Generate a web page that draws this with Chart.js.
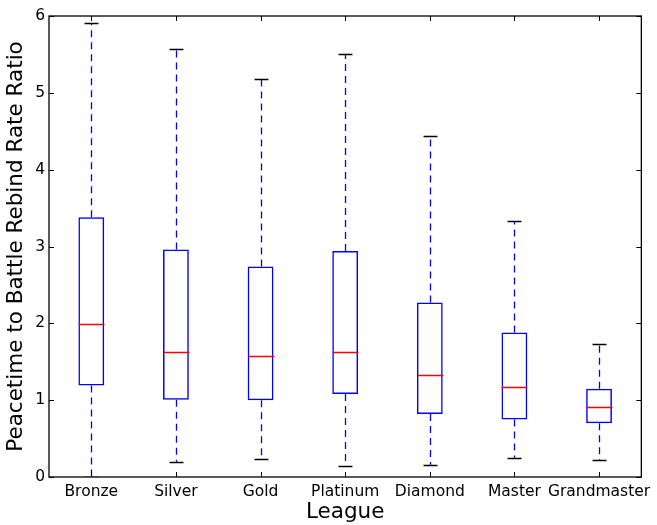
<!DOCTYPE html>
<html><head><meta charset="utf-8">
<script src="https://cdn.jsdelivr.net/npm/chart.js@4"></script>
<style>html,body{margin:0;padding:0;background:#fff}canvas{display:block}</style>
</head><body>
<canvas id="c" width="657" height="525"></canvas>
<script>
const leagues = ['Bronze','Silver','Gold','Platinum','Diamond','Master','Grandmaster'];
const whiskerLow  = [0.00, 0.20, 0.24, 0.14, 0.16, 0.25, 0.22];
const q1          = [1.19, 1.005, 1.00, 1.08, 0.82, 0.75, 0.70];
const medians     = [1.99, 1.63, 1.58, 1.63, 1.33, 1.17, 0.915];
const q3          = [3.38, 2.96, 2.74, 2.94, 2.27, 1.88, 1.15];
const whiskerHigh = [5.905, 5.57, 5.18, 5.51, 4.435, 3.33, 1.737];
const yTicks = [0,1,2,3,4,5,6];

const FONT = "'DejaVu Sans', sans-serif";

const boxPlugin = {
  id: 'boxParts',
  afterDatasetsDraw(chart) {
    const ctx = chart.ctx, xs = chart.scales.x, ys = chart.scales.y;
    const meta = chart.getDatasetMeta(0);
    ctx.save();
    ctx.beginPath();
    ctx.rect(chart.chartArea.left, chart.chartArea.top - 2, chart.chartArea.width, chart.chartArea.height + 2);
    ctx.clip();
    leagues.forEach((lg, i) => {
      const x = Math.round(xs.getPixelForValue(i)) + 0.5;
      const bw = meta.data[i].width;
      const capHalf = bw / 4 + 0.5;
      ctx.strokeStyle = '#0000ff';
      ctx.lineWidth = 1.3;
      ctx.setLineDash([7, 5]);
      ctx.beginPath();
      ctx.moveTo(x, ys.getPixelForValue(q3[i]));
      ctx.lineTo(x, ys.getPixelForValue(whiskerHigh[i]));
      ctx.moveTo(x, ys.getPixelForValue(q1[i]));
      ctx.lineTo(x, ys.getPixelForValue(whiskerLow[i]));
      ctx.stroke();
      ctx.setLineDash([]);
      ctx.strokeStyle = '#000000';
      ctx.lineWidth = 1.3;
      ctx.beginPath();
      const yh = Math.round(ys.getPixelForValue(whiskerHigh[i])) + 0.5;
      const yl = Math.round(ys.getPixelForValue(whiskerLow[i])) + 0.5;
      ctx.moveTo(x - capHalf, yh); ctx.lineTo(x + capHalf, yh);
      ctx.moveTo(x - capHalf, yl); ctx.lineTo(x + capHalf, yl);
      ctx.stroke();
      ctx.strokeStyle = '#ff0000';
      ctx.lineWidth = 1.3;
      const ym = Math.round(ys.getPixelForValue(medians[i])) + 0.5;
      ctx.beginPath();
      ctx.moveTo(x - bw / 2, ym); ctx.lineTo(x + bw / 2, ym);
      ctx.stroke();
    });
    ctx.restore();
    const a = chart.chartArea;
    ctx.save();
    ctx.strokeStyle = '#000';
    ctx.lineWidth = 1.3;
    ctx.strokeRect(a.left, a.top, a.right - a.left, a.bottom - a.top);
    ctx.lineWidth = 1;
    ctx.beginPath();
    yTicks.forEach(v => {
      const y = Math.round(ys.getPixelForValue(v)) + 0.5;
      ctx.moveTo(a.left, y); ctx.lineTo(a.left + 5, y);
      ctx.moveTo(a.right, y); ctx.lineTo(a.right - 5, y);
    });
    leagues.forEach((lg, i) => {
      const x = Math.round(xs.getPixelForValue(i)) + 0.5;
      ctx.moveTo(x, a.bottom); ctx.lineTo(x, a.bottom - 5);
      ctx.moveTo(x, a.top); ctx.lineTo(x, a.top + 5);
    });
    ctx.stroke();
    ctx.restore();
  }
};

new Chart(document.getElementById('c'), {
  type: 'bar',
  data: {
    labels: leagues,
    datasets: [{
      data: leagues.map((_, i) => [q1[i], q3[i]]),
      backgroundColor: 'rgba(0,0,0,0)',
      borderColor: '#0000ff',
      borderWidth: 1.5,
      borderSkipped: false,
      categoryPercentage: 1.0,
      barPercentage: 0.305
    }]
  },
  options: {
    responsive: false,
    animation: false,
    devicePixelRatio: 1,
    layout: { padding: { top: 16, right: 12, left: 0, bottom: 0 } },
    plugins: { legend: { display: false }, tooltip: { enabled: false } },
    scales: {
      x: {
        type: 'category',
        offset: true,
        afterFit(scale) { scale.height = 48; },
        grid: { display: false, drawTicks: false },
        border: { display: false },
        ticks: { color: '#000', font: { family: FONT, size: 15.5 }, padding: 6, maxRotation: 0, autoSkip: false },
        title: { display: true, text: 'League', color: '#000', font: { family: FONT, size: 21.5 }, padding: { top: 0, bottom: 0 } }
      },
      y: {
        min: 0, max: 6,
        afterFit(scale) { scale.width = 49; },
        afterBuildTicks(scale) { scale.ticks = yTicks.map(v => ({ value: v })); },
        grid: { display: false, drawTicks: false },
        border: { display: false },
        ticks: { color: '#000', font: { family: FONT, size: 15.5 }, padding: 4 },
        title: { display: true, text: 'Peacetime to Battle Rebind Rate Ratio', color: '#000', font: { family: FONT, size: 21.5 }, padding: { top: 4, bottom: 0 } }
      }
    }
  },
  plugins: [boxPlugin]
});
</script>
</body></html>
